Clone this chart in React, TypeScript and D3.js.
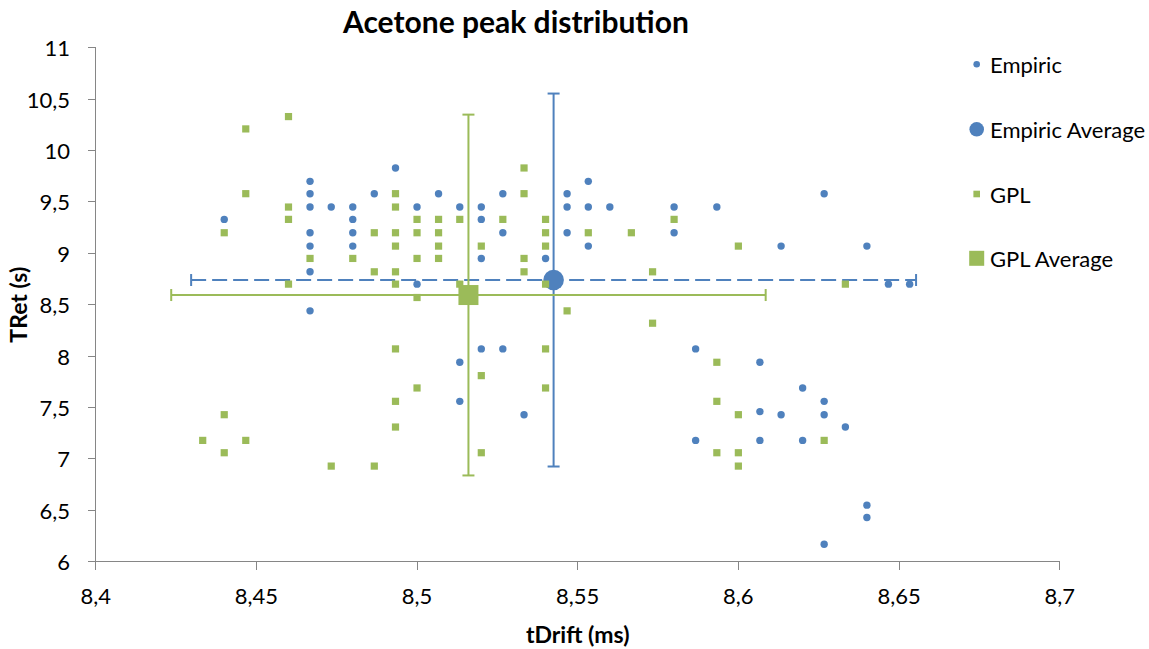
import React from "react";
import * as d3 from "d3";

const W = 1149;
const H = 649;

const xTicks = [8.4, 8.45, 8.5, 8.55, 8.6, 8.65, 8.7];
const yTicks = [6, 6.5, 7, 7.5, 8, 8.5, 9, 9.5, 10, 10.5, 11];

const empiricX = [
  8.4667, 8.4667, 8.4867, 8.4667, 8.4733, 8.48, 8.44, 8.48, 8.4667, 8.48,
  8.4667, 8.48, 8.4667, 8.4667, 8.4933, 8.5, 8.5067, 8.5133, 8.52, 8.52,
  8.5267, 8.5267, 8.52, 8.54, 8.5, 8.5467, 8.5467, 8.5467, 8.5533, 8.5533,
  8.5533, 8.56, 8.58, 8.5933, 8.58, 8.6133, 8.6267, 8.64, 8.6467, 8.6533,
  8.5133, 8.52, 8.5267, 8.5133, 8.5333, 8.5867, 8.6067, 8.62, 8.6267, 8.6067,
  8.6133, 8.6267, 8.6333, 8.5867, 8.6067, 8.62, 8.64, 8.64, 8.6267,
];
const empiricY = [
  9.7, 9.58, 9.58, 9.45, 9.45, 9.45, 9.33, 9.33, 9.2, 9.2,
  9.07, 9.07, 8.82, 8.44, 9.83, 9.45, 9.58, 9.45, 9.45, 9.33,
  9.58, 9.2, 8.95, 8.95, 8.7, 9.58, 9.45, 9.2, 9.7, 9.45,
  9.07, 9.45, 9.45, 9.45, 9.2, 9.07, 9.58, 9.07, 8.7, 8.7,
  7.94, 8.07, 8.07, 7.56, 7.43, 8.07, 7.94, 7.69, 7.56, 7.46,
  7.43, 7.43, 7.31, 7.18, 7.18, 7.18, 6.55, 6.43, 6.17,
];

const gplX = [
  8.46, 8.4467, 8.4467, 8.46, 8.46, 8.44, 8.4867, 8.4667, 8.48, 8.4867,
  8.46, 8.4933, 8.4933, 8.4933, 8.4933, 8.4933, 8.4933, 8.5, 8.5, 8.5,
  8.5, 8.5067, 8.5067, 8.5067, 8.5067, 8.5133, 8.5133, 8.52, 8.5267, 8.5333,
  8.5333, 8.5333, 8.5333, 8.54, 8.54, 8.54, 8.54, 8.5467, 8.5533, 8.5667,
  8.5733, 8.5733, 8.58, 8.6, 8.6333, 8.44, 8.4333, 8.4467, 8.44, 8.4733,
  8.4867, 8.4933, 8.5, 8.4933, 8.4933, 8.52, 8.52, 8.54, 8.54, 8.5933,
  8.5933, 8.6, 8.5933, 8.6, 8.6, 8.6267,
];
const gplY = [
  10.33, 10.21, 9.58, 9.45, 9.33, 9.2, 9.2, 8.95, 8.95, 8.82,
  8.7, 9.58, 9.45, 9.2, 9.07, 8.82, 8.7, 9.33, 9.2, 8.95,
  8.57, 9.33, 9.2, 9.07, 8.95, 9.33, 8.7, 9.07, 9.33, 9.83,
  9.58, 8.95, 8.82, 9.33, 9.2, 9.07, 8.7, 8.44, 9.2, 9.2,
  8.82, 8.32, 9.33, 9.07, 8.7, 7.43, 7.18, 7.18, 7.06, 6.93,
  6.93, 8.07, 7.69, 7.56, 7.31, 7.81, 7.06, 8.07, 7.69, 7.94,
  7.56, 7.43, 7.06, 7.06, 6.93, 7.18,
];

const empiricAvg = { x: 8.5425, y: 8.74, ex: 0.1128, ey: 1.814 };
const gplAvg = { x: 8.516, y: 8.594, ex: 0.0925, ey: 1.755 };

const seriesNames = ["Empiric", "Empiric Average", "GPL", "GPL Average"];

const BLUE = "#4F81BD";
const GREEN = "#9BBB59";
const AXIS = "#868686";
const FONT = "Lato, 'Open Sans', sans-serif";

const fmt = (v: number) => String(v).replace(".", ",");

export default function App() {
  const x = d3.scaleLinear().domain([8.4, 8.7]).range([95.7, 1059.7]);
  const y = d3.scaleLinear().domain([6, 11]).range([561.7, 47.7]);
  const cap = 6;

  const errorBars = (
    a: { x: number; y: number; ex: number; ey: number },
    color: string,
    dashedH: boolean
  ) => (
    <g stroke={color} strokeWidth={2} fill="none">
      <line
        x1={x(a.x - a.ex)}
        x2={x(a.x + a.ex)}
        y1={y(a.y)}
        y2={y(a.y)}
        strokeDasharray={dashedH ? "15 6" : undefined}
      />
      <line x1={x(a.x - a.ex)} x2={x(a.x - a.ex)} y1={y(a.y) - cap} y2={y(a.y) + cap} />
      <line x1={x(a.x + a.ex)} x2={x(a.x + a.ex)} y1={y(a.y) - cap} y2={y(a.y) + cap} />
      <line x1={x(a.x)} x2={x(a.x)} y1={y(a.y - a.ey)} y2={y(a.y + a.ey)} />
      <line x1={x(a.x) - cap} x2={x(a.x) + cap} y1={y(a.y - a.ey)} y2={y(a.y - a.ey)} />
      <line x1={x(a.x) - cap} x2={x(a.x) + cap} y1={y(a.y + a.ey)} y2={y(a.y + a.ey)} />
    </g>
  );

  const legendRows = [64.3, 129.3, 194, 258.3];
  const lx = 976.7;

  return (
    <svg
      width={W}
      height={H}
      style={{ position: "absolute", left: 0, top: 0, background: "#fff" }}
      fontFamily={FONT}
    >
      <rect x={0} y={0} width={W} height={H} fill="#fff" />
      {/* axes */}
      <g stroke={AXIS} strokeWidth={1} shapeRendering="crispEdges">
        <line x1={x(8.4)} x2={x(8.4)} y1={y(11)} y2={y(6) + 8} />
        <line x1={x(8.4) - 8} x2={x(8.7)} y1={y(6)} y2={y(6)} />
        {yTicks.map((t) => (
          <line key={"yt" + t} x1={x(8.4) - 8} x2={x(8.4)} y1={y(t)} y2={y(t)} />
        ))}
        {xTicks.map((t) => (
          <line key={"xt" + t} x1={x(t)} x2={x(t)} y1={y(6)} y2={y(6) + 8} />
        ))}
      </g>
      <g fontSize={22} fill="#000">
        {yTicks.map((t) => (
          <text key={"yl" + t} x={70} y={y(t)} textAnchor="end" dominantBaseline="central">
            {fmt(t)}
          </text>
        ))}
        {xTicks.map((t) => (
          <text key={"xl" + t} x={x(t)} y={603.5} textAnchor="middle">
            {fmt(t)}
          </text>
        ))}
      </g>
      <text x={343} y={33.3} fontSize={30} fontWeight="bold">
        Acetone peak distribution
      </text>
      <text x={577.7} y={643} fontSize={23} fontWeight="bold" textAnchor="middle">
        tDrift (ms)
      </text>
      <text
        transform={`translate(27, ${(y(6) + y(11)) / 2}) rotate(-90)`}
        fontSize={23}
        fontWeight="bold"
        textAnchor="middle"
      >
        TRet (s)
      </text>

      {/* Empiric */}
      <g fill={BLUE}>
        {empiricX.map((v, i) => (
          <circle key={"e" + i} cx={x(v)} cy={y(empiricY[i])} r={3.7} />
        ))}
      </g>
      {/* Empiric Average */}
      {errorBars(empiricAvg, BLUE, true)}
      <circle cx={x(empiricAvg.x)} cy={y(empiricAvg.y)} r={10.3} fill={BLUE} />
      {/* GPL */}
      <g fill={GREEN}>
        {gplX.map((v, i) => (
          <rect key={"g" + i} x={x(v) - 3.6} y={y(gplY[i]) - 3.6} width={7.2} height={7.2} />
        ))}
      </g>
      {/* GPL Average */}
      {errorBars(gplAvg, GREEN, false)}
      <rect x={x(gplAvg.x) - 10} y={y(gplAvg.y) - 10} width={20} height={20} fill={GREEN} />

      {/* legend */}
      <g fontSize={22}>
        <circle cx={lx} cy={legendRows[0]} r={3.3} fill={BLUE} />
        <circle cx={lx} cy={legendRows[1]} r={7.3} fill={BLUE} />
        <rect x={lx - 3.3} y={legendRows[2] - 3.3} width={6.6} height={6.6} fill={GREEN} />
        <rect x={lx - 7.5} y={legendRows[3] - 7.5} width={15} height={15} fill={GREEN} />
        {seriesNames.map((n, i) => (
          <text key={n} x={990} y={legendRows[i]} dominantBaseline="central">
            {n}
          </text>
        ))}
      </g>
    </svg>
  );
}
